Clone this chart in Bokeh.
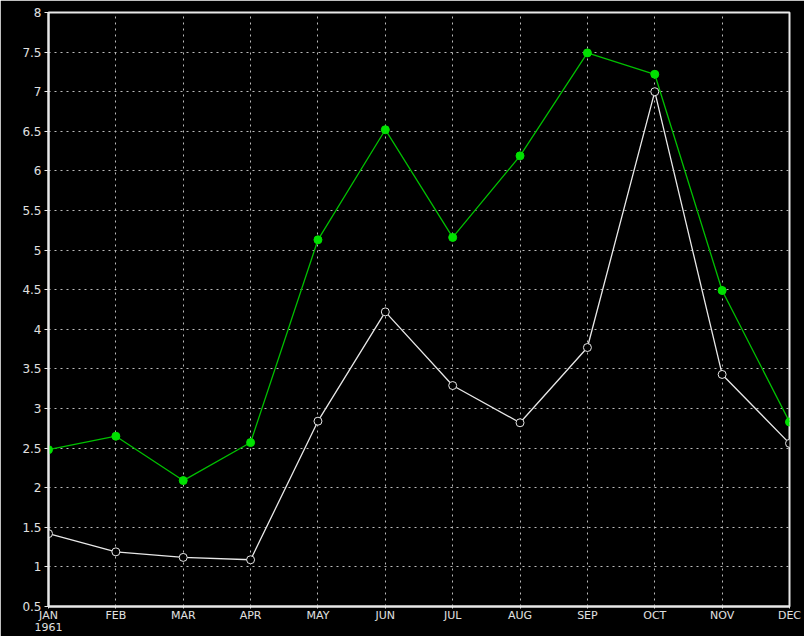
from bokeh.plotting import figure
from bokeh.models import FixedTicker
from bokeh.embed import file_html
from bokeh.resources import INLINE

months = ["JAN", "FEB", "MAR", "APR", "MAY", "JUN", "JUL", "AUG", "SEP", "OCT", "NOV", "DEC"]
year_label = "1961"
green_values = [2.48, 2.65, 2.09, 2.57, 5.13, 6.52, 5.16, 6.19, 7.49, 7.22, 4.49, 2.83]
white_values = [1.42, 1.19, 1.12, 1.09, 2.84, 4.22, 3.29, 2.82, 3.77, 7.00, 3.43, 2.56]
y_ticks = [0.5, 1, 1.5, 2, 2.5, 3, 3.5, 4, 4.5, 5, 5.5, 6, 6.5, 7, 7.5, 8]

x = list(range(len(months)))

p = figure(width=804, height=636, output_backend="svg", toolbar_location=None,
           x_range=(0, 11), y_range=(0.5, 8),
           min_border_left=48, min_border_right=15, min_border_top=12, min_border_bottom=30,
           background_fill_color="black", border_fill_color="black")

p.outline_line_color = "#e8e8e8"
p.outline_line_width = 2

for ax in (p.xaxis[0], p.yaxis[0]):
    ax.axis_line_color = "#e8e8e8"
    ax.axis_line_width = 2
    ax.major_tick_line_color = "#e8e8e8"
    ax.minor_tick_line_color = None
    ax.major_tick_in = 0
    ax.major_tick_out = 4
    ax.major_label_text_color = "#e0e0e0"
    ax.major_label_text_font = "DejaVu Sans"
    ax.major_label_text_font_size = "12px"

labels = {i: m for i, m in enumerate(months)}
labels[0] = months[0] + "\n" + year_label
p.xaxis.ticker = FixedTicker(ticks=x)
p.xaxis.major_label_overrides = labels
p.xaxis.major_label_standoff = 0
p.xaxis.major_tick_out = 2
p.xaxis.major_label_text_font_size = "11px"
p.xaxis.major_label_text_line_height = 0.95
p.yaxis.ticker = FixedTicker(ticks=y_ticks)
p.yaxis.major_label_overrides = {t: (str(t).rstrip("0").rstrip(".") if isinstance(t, float) else str(t)) for t in y_ticks}
p.yaxis.major_label_standoff = 3

for g in (p.xgrid[0], p.ygrid[0]):
    g.grid_line_color = "#bbbbbb"
    g.grid_line_dash = "2 4"
    g.grid_line_width = 1

p.line(x, green_values, line_color="#00c000", line_width=1.3)
p.scatter(x, green_values, size=8, fill_color="#00e000", line_color="#00e000")

p.line(x, white_values, line_color="#e8e8e8", line_width=1.3)
p.scatter(x, white_values, size=8, fill_color="black", line_color="#e8e8e8", line_width=1)

open("out.html", "w").write(file_html(p, INLINE))
